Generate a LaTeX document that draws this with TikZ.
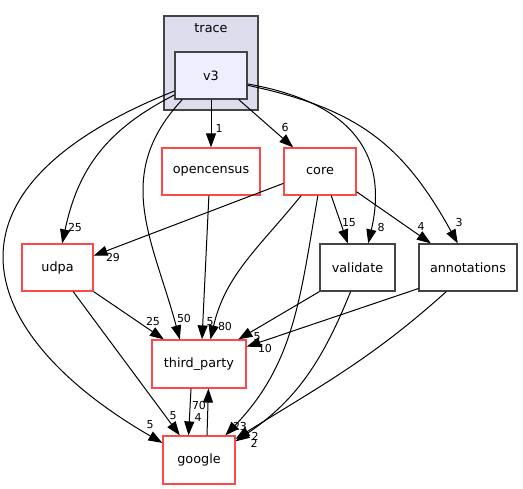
\documentclass[tikz,border=0pt]{standalone}
\usepackage{fontspec}
\setmainfont{DejaVu Sans}
\usepackage{tikz}
\usetikzlibrary{arrows.meta}

\definecolor{dirred}{RGB}{255,72,72}
\definecolor{dirgray}{RGB}{68,68,68}
\definecolor{curfill}{RGB}{238,238,255}
\definecolor{clusterfill}{RGB}{221,221,238}

\begin{document}
\begin{tikzpicture}[
  x=1pt, y=1pt,
  dirbox/.style={draw=dirred, line width=1.2pt, rectangle, inner sep=0pt,
    minimum height=47pt, font=\fontsize{12.8}{14}\selectfont},
  plainbox/.style={dirbox, draw=dirgray},
  curbox/.style={plainbox, fill=curfill},
  lbl/.style={inner sep=0pt, font=\fontsize{11}{12}\selectfont},
  >={Triangle[length=14pt,width=10pt]},
  every path/.style={line width=1pt}
]
\useasboundingbox (0,0) rectangle (523,489);

% --- Cluster ---
\draw[dirgray, fill=clusterfill, line width=1.2pt] (164,473) rectangle (258,379);
\node (trace) [inner sep=0pt, font=\fontsize{12.8}{14}\selectfont] at (211,461) {trace};

% --- Nodes ---
\node (v3)          [curbox, minimum width=72pt]   at (211,413.5) {v3};
\node (opencensus)  [dirbox, minimum width=98pt]   at (211,317.5) {opencensus};
\node (core)        [dirbox, minimum width=72pt]   at (320,317.5) {core};
\node (udpa)        [dirbox, minimum width=71pt]   at (57.5,221.5) {udpa};
\node (validate)    [plainbox, minimum width=75pt] at (357.5,221.5) {validate};
\node (annotations) [plainbox, minimum width=98pt] at (468,221.5) {annotations};
\node (third_party) [dirbox, minimum width=94pt, minimum height=48pt] at (199,125) {third\_party};
\node (google)      [dirbox, minimum width=72pt, minimum height=48pt] at (199,29) {google};

% --- Edges out of v3 ---
\draw[->] (v3.south) -- (opencensus.north) node[lbl] at (219,361) {1};
\draw[->] (v3.-41) -- (core.138) node[lbl] at (285,361) {6};
\draw[->] (v3.208) to[out=207,in=78,looseness=1.05] (udpa.79) node[lbl] at (75,261) {25};
\draw[->] (v3.203) .. controls +(201.7:273) and +(150:211) .. (google.155) node[lbl] at (150,64) {5};
\draw[->] (v3.220) to[out=227,in=105,looseness=1.1] (third_party.128) node[lbl] at (184,170) {50};
\draw[->] (v3.-13) to[out=-10,in=77,looseness=1.25] (validate.66) node[lbl] at (381,261) {8};
\draw[->] (v3.-15) to[out=-12,in=119,looseness=1.1] (annotations.113) node[lbl] at (459,266) {3};

% --- Edges out of core ---
\draw[->] (core.198) -- (udpa.18) node[lbl] at (113,231) {29};
\draw[->] (core.232) to[out=231,in=77] (third_party.65) node[lbl] at (225,162) {80};
\draw[->] (core.265) to[out=260,in=46] (google.43) node[lbl] at (240,62) {23};
\draw[->] (core.-65) -- (validate.112) node[lbl] at (349,266) {15};
\draw[->] (core.-29) -- (annotations.147) node[lbl] at (421,263) {4};

% --- Other edges ---
\draw[->] (opencensus.265) -- (third_party.83) node[lbl] at (210,167) {5};
\draw[->] (udpa.south east) -- (third_party.145) node[lbl] at (153,167) {25};
\draw[->] (udpa.-57) -- (google.128) node[lbl] at (173,73) {5};
\draw[->] (validate.south west) -- (third_party.32) node[lbl] at (257,152) {5};
\draw[->] (validate.254) to[out=248,in=34] (google.27) node[lbl] at (255,53) {2};
\draw[->] (annotations.203) -- (third_party.20) node[lbl] at (265,140) {10};
\draw[->] (annotations.228) to[out=222,in=32] (google.30) node[lbl] at (254,46) {2};

% --- third_party and google ---
\draw[->] (third_party.252) -- (google.113) node[lbl] at (198,72) {4};
\draw[->] (google.72) -- (third_party.-69) node[lbl] at (199,83) {70};

\end{tikzpicture}
\end{document}
